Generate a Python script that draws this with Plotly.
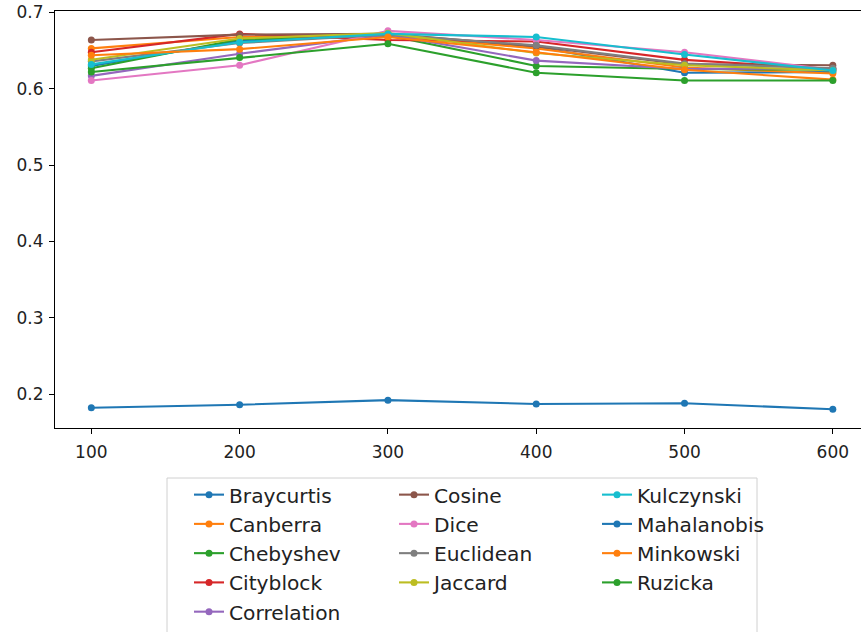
import plotly.graph_objects as go

x_vals = [100, 200, 300, 400, 500, 600]

names = ["Braycurtis", "Canberra", "Chebyshev", "Cityblock", "Correlation",
         "Cosine", "Dice", "Euclidean", "Jaccard", "Kulczynski",
         "Mahalanobis", "Minkowski", "Ruzicka"]

braycurtis = [0.630, 0.663, 0.670, 0.655, 0.621, 0.622]
canberra = [0.653, 0.668, 0.670, 0.653, 0.628, 0.620]
chebyshev = [0.627, 0.665, 0.670, 0.630, 0.626, 0.625]
cityblock = [0.648, 0.672, 0.664, 0.662, 0.638, 0.626]
correlation = [0.617, 0.646, 0.671, 0.637, 0.626, 0.627]
cosine = [0.664, 0.671, 0.672, 0.656, 0.632, 0.631]
dice = [0.611, 0.631, 0.676, 0.664, 0.648, 0.625]
euclidean = [0.636, 0.660, 0.671, 0.657, 0.633, 0.627]
jaccard = [0.638, 0.666, 0.673, 0.647, 0.631, 0.624]
kulczynski = [0.632, 0.661, 0.672, 0.668, 0.645, 0.624]
mahalanobis = [0.182, 0.186, 0.192, 0.187, 0.188, 0.180]
minkowski = [0.644, 0.652, 0.668, 0.648, 0.625, 0.612]
ruzicka = [0.622, 0.641, 0.659, 0.621, 0.611, 0.611]

series = [braycurtis, canberra, chebyshev, cityblock, correlation, cosine, dice,
          euclidean, jaccard, kulczynski, mahalanobis, minkowski, ruzicka]

colors = ["#1f77b4", "#ff7f0e", "#2ca02c", "#d62728", "#9467bd", "#8c564b",
          "#e377c2", "#7f7f7f", "#bcbd22", "#17becf", "#1f77b4", "#ff7f0e", "#2ca02c"]

legend_of = ["legend"] * 5 + ["legend2"] * 4 + ["legend3"] * 4

x_ticks = [100, 200, 300, 400, 500, 600]
y_ticks = [0.2, 0.3, 0.4, 0.5, 0.6, 0.7]

W, H = 861, 632
FONT = "DejaVu Sans"

fig = go.Figure()
for name, ys, c, lg in zip(names, series, colors, legend_of):
    fig.add_trace(go.Scatter(
        x=x_vals, y=ys, name=name, mode="lines+markers",
        line=dict(color=c, width=2.1), marker=dict(color=c, size=7),
        legend=lg,
    ))

leg_common = dict(xref="container", yref="container", xanchor="left", yanchor="top",
                  bgcolor="rgba(0,0,0,0)", borderwidth=0,
                  font=dict(family=FONT, size=20.2, color="#222"), tracegroupgap=0)

LEG_TOP = 475
PL, PT, PB = 55, 11, 428   # plot area in page px
PW, PH = W - PL, PB - PT
fig.update_layout(
    width=W, height=H,
    margin=dict(l=PL, r=0, t=PT, b=H - PB, autoexpand=False),
    paper_bgcolor="white", plot_bgcolor="white",
    font=dict(family=FONT, size=17, color="#222"),
    showlegend=True,
    legend=dict(x=189 / W, y=1 - LEG_TOP / H, **leg_common),
    legend2=dict(x=394 / W, y=1 - LEG_TOP / H, **leg_common),
    legend3=dict(x=597 / W, y=1 - LEG_TOP / H, **leg_common),
    xaxis=dict(range=[75.5, 619], tickvals=x_ticks, ticktext=[str(v) for v in x_ticks],
               showline=True, linecolor="black", linewidth=1.1, mirror=True,
               ticks="outside", ticklen=5, tickcolor="black", showgrid=False, zeroline=False,
               ticklabelstandoff=4, ticklabeloverflow="allow"),
    yaxis=dict(range=[0.1555, 0.702], tickvals=y_ticks, ticktext=[f"{v:.1f}" for v in y_ticks],
               showline=True, linecolor="black", linewidth=1.1,
               ticks="outside", ticklen=5, tickcolor="black", showgrid=False, zeroline=False,
               ticklabelstandoff=2, ticklabeloverflow="allow"),
    shapes=[dict(type="rect", xref="paper", yref="paper",
                 x0=(167 - PL) / PW, x1=(757 - PL) / PW,
                 y0=(PB - 660) / PH, y1=(PB - 478) / PH,
                 line=dict(color="#d0d0d0", width=1), fillcolor="rgba(255,255,255,0.8)",
                 layer="below")],
)

fig.write_html("out.html",
               config={"displayModeBar": False},
               post_script="document.body.style.margin='0';document.body.style.overflow='hidden';")
